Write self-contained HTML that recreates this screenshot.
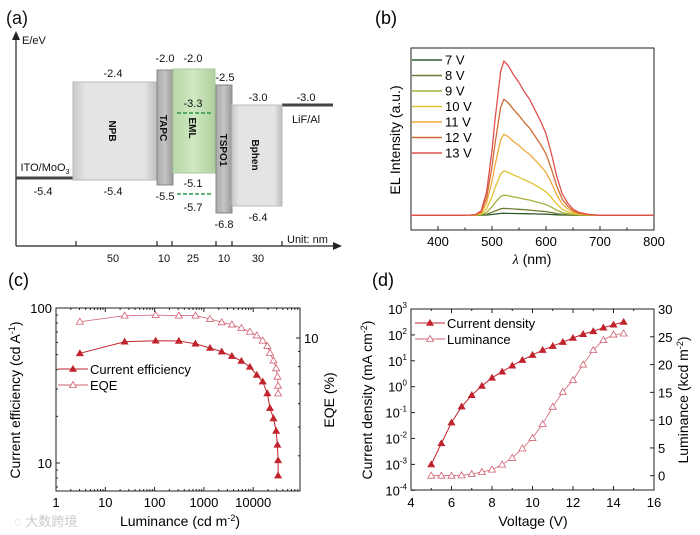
<!DOCTYPE html>
<html><head><meta charset="utf-8"><style>
html,body{margin:0;padding:0;background:#fff}
svg{display:block;font-family:"Liberation Sans","Noto Sans CJK SC",sans-serif}
</style></head><body>
<svg id="fig" width="700" height="535" viewBox="0 0 700 535" xmlns="http://www.w3.org/2000/svg">
<defs>
<linearGradient id="gbox" x1="0" y1="0" x2="1" y2="0"><stop offset="0" stop-color="#c8c8c8"/><stop offset="0.15" stop-color="#e4e4e4"/><stop offset="0.85" stop-color="#e4e4e4"/><stop offset="1" stop-color="#bdbdbd"/></linearGradient>
<linearGradient id="gthin" x1="0" y1="0" x2="1" y2="0"><stop offset="0" stop-color="#aaa"/><stop offset="0.5" stop-color="#c4c4c4"/><stop offset="1" stop-color="#999"/></linearGradient>
<linearGradient id="ggreen" x1="0" y1="0" x2="1" y2="0"><stop offset="0" stop-color="#b8d8a8"/><stop offset="0.5" stop-color="#cfe8c0"/><stop offset="1" stop-color="#b0d0a0"/></linearGradient>
</defs>

<!-- Panel (a) energy diagram -->
<g id="panel-a" font-size="11" fill="#111">
<text x="6" y="24" font-size="18">(a)</text>
<line x1="16" y1="246" x2="16" y2="35" stroke="#222" stroke-width="1.2"/>
<path d="M12,40 L16,31 L20,40 Z" fill="#222"/>
<text x="22" y="44">E/eV</text>
<line x1="16" y1="246" x2="336" y2="246" stroke="#222" stroke-width="1.2"/>
<path d="M333,242 L342,246 L333,250 Z" fill="#222"/>
<text x="287" y="243">Unit: nm</text>
<g stroke="#222" stroke-width="1.2">
<line x1="76" y1="241" x2="76" y2="246"/><line x1="157" y1="241" x2="157" y2="246"/><line x1="172" y1="241" x2="172" y2="246"/><line x1="216" y1="241" x2="216" y2="246"/><line x1="232" y1="241" x2="232" y2="246"/><line x1="282" y1="241" x2="282" y2="246"/>
</g>
<g text-anchor="middle">
<text x="113" y="262">50</text><text x="164" y="262">10</text><text x="193" y="262">25</text><text x="224" y="262">10</text><text x="258" y="262">30</text>
</g>
<line x1="16" y1="178" x2="73" y2="178" stroke="#444" stroke-width="3"/>
<line x1="282" y1="105" x2="333" y2="105" stroke="#444" stroke-width="3"/>
<rect x="73" y="82" width="84" height="98" fill="url(#gbox)" stroke="#bbb"/>
<rect x="157" y="70" width="16" height="115" fill="url(#gthin)" stroke="#888"/>
<rect x="173" y="69" width="42" height="104" fill="url(#ggreen)" stroke="#a8c898"/>
<rect x="216" y="85" width="16" height="128" fill="url(#gthin)" stroke="#888"/>
<rect x="232" y="105" width="50" height="101" fill="url(#gbox)" stroke="#bbb"/>
<line x1="177" y1="113" x2="213" y2="113" stroke="#2a9a4a" stroke-width="1.5" stroke-dasharray="4,2"/>
<line x1="177" y1="194" x2="213" y2="194" stroke="#2a9a4a" stroke-width="1.5" stroke-dasharray="4,2"/>
<g font-weight="bold" font-size="10" text-anchor="middle">
<text transform="translate(113,131) rotate(90)" dy="4">NPB</text>
<text transform="translate(164,128) rotate(90)" dy="4">TAPC</text>
<text transform="translate(193,128) rotate(90)" dy="4">EML</text>
<text transform="translate(224,150) rotate(90)" dy="4">TSPO1</text>
<text transform="translate(256,155) rotate(90)" dy="4">Bphen</text>
</g>
<g text-anchor="middle">
<text x="113" y="77">-2.4</text><text x="165" y="62">-2.0</text><text x="193" y="62">-2.0</text><text x="225" y="81">-2.5</text>
<text x="258" y="101">-3.0</text><text x="306" y="101">-3.0</text><text x="193" y="107">-3.3</text>
<text x="306" y="123">LiF/Al</text>
<text x="43" y="195">-5.4</text><text x="113" y="195">-5.4</text><text x="193" y="187">-5.1</text>
<text x="165" y="200">-5.5</text><text x="193" y="211">-5.7</text><text x="224" y="228">-6.8</text><text x="258" y="221">-6.4</text>
<text x="45" y="171">ITO/MoO<tspan font-size="7" dy="3">3</tspan></text>
</g>
</g>

<!-- Panel (b) -->
<g id="panel-b">
<text x="375" y="24" font-size="18">(b)</text>
<g id="b-plot"></g>
<text transform="translate(400,140) rotate(-90)" text-anchor="middle" font-size="14">EL Intensity (a.u.)</text>
<text x="532" y="264" text-anchor="middle" font-size="14"><tspan font-style="italic" font-family="Liberation Serif">λ</tspan> (nm)</text>
</g>

<!-- Panel (c) -->
<g id="panel-c">
<text x="8" y="286" font-size="18">(c)</text>
<g id="c-plot"></g>
<text transform="translate(20,400) rotate(-90)" text-anchor="middle" font-size="14">Current efficiency (cd A<tspan font-size="9" dy="-5">-1</tspan><tspan dy="5">)</tspan></text>
<text transform="translate(334,400) rotate(-90)" text-anchor="middle" font-size="14">EQE (%)</text>
<text x="180" y="526" text-anchor="middle" font-size="14">Luminance (cd m<tspan font-size="9" dy="-5">-2</tspan><tspan dy="5">)</tspan></text>
<text x="14" y="526" font-size="13" fill="#ccc">◌ 大数跨境</text>
</g>

<!-- Panel (d) -->
<g id="panel-d">
<text x="372" y="286" font-size="18">(d)</text>
<g id="d-plot"></g>
<text transform="translate(372,400) rotate(-90)" text-anchor="middle" font-size="14">Current density (mA cm<tspan font-size="9" dy="-5">-2</tspan><tspan dy="5">)</tspan></text>
<text transform="translate(688,400) rotate(-90)" text-anchor="middle" font-size="14">Luminance (kcd m<tspan font-size="9" dy="-5">-2</tspan><tspan dy="5">)</tspan></text>
<text x="533" y="526" text-anchor="middle" font-size="14">Voltage (V)</text>
</g>
</svg>
<script>
// ---- Panel (b) data ----
const wavelengths = [350,440,460,470,480,490,500,505,510,516,522,530,540,550,560,570,580,590,600,610,620,630,640,650,660,680,700,800];
const spectrumShape = [0,0,0.002,0.006,0.03,0.15,0.42,0.6,0.75,0.93,1.0,0.97,0.91,0.86,0.80,0.75,0.68,0.61,0.53,0.40,0.25,0.14,0.08,0.04,0.02,0.005,0,0];
const voltageLabels = ["7 V","8 V","9 V","10 V","11 V","12 V","13 V"];
const peakIntensities = [0.013,0.045,0.131,0.287,0.525,0.752,1.0];
const spectrumColors = ["#2e5a30","#6d7c30","#a9b03a","#e2c232","#f0aa3a","#cf6c34","#e0504e"];
const bXTicks = [400,500,600,700,800];
// ---- Panel (c) data ----
const luminanceC = [3.05,24.7,105,310,674,1330,2300,3700,5760,8560,11800,15600,19350,21900,25800,29200,31000,32000,32000];
const currentEfficiency = [51,60.6,61.5,61.3,58.8,55.2,52.3,49.0,45.5,41.7,37.0,33.5,28.1,22.6,19.4,16.1,13.1,10.4,8.3];
const eqeValues = [11.35,11.9,11.95,11.9,11.9,11.6,11.3,11.1,10.8,10.5,10.2,9.8,9.4,8.9,8.4,7.9,7.4,6.9,6.5];
const cXTickLabels = ["1","10","100","1000","10000"];
const cYTickLabels = ["10","100"];
// ---- Panel (d) data ----
const voltages = [5,5.5,6,6.5,7,7.5,8,8.5,9,9.5,10,10.5,11,11.5,12,12.5,13,13.5,14,14.5];
const currentDensity = [0.001,0.0065,0.041,0.17,0.47,1.07,2.2,3.8,6.5,10.7,16.7,26,37,53,76,107,138,190,247,316];
const luminanceKcd = [0,0,0,0.06,0.3,0.66,1.1,2.0,3.2,4.9,6.8,9.3,12.4,15.1,17.2,20.0,22.6,24.4,25.4,25.6];
const dXTicks = [4,6,8,10,12,14,16];
const dLeftExps = [-4,-3,-2,-1,0,1,2,3];
const dRightTicks = [0,5,10,15,20,25,30];

const NS = "http://www.w3.org/2000/svg";
function mk(parent, tag, attrs){ const e=document.createElementNS(NS,tag); for(const k in attrs) e.setAttribute(k,attrs[k]); parent.appendChild(e); return e; }
function txt(parent, x, y, s, anchor, size){ const t=mk(parent,"text",{x:x,y:y,"text-anchor":anchor||"middle","font-size":size||13}); t.textContent=s; return t; }
function tri(parent, x, y, filled, color){ return mk(parent,"path",{d:`M${x},${y-3.5} L${x+3.5},${y+2.5} L${x-3.5},${y+2.5} Z`,fill:filled?color:"#fff",stroke:color,"stroke-width":filled?0.6:0.8}); }

// ===== Panel (b) =====
(function(){
  const g=document.getElementById("b-plot");
  const L=411,R=654,T=48,B=230,base=215.3,scale=154.3;
  const xs=w=>L+(w-350)*(R-L)/450;
  const ys=v=>base-v*scale;
  const frame=mk(g,"rect",{x:L,y:T,width:R-L,height:B-T,fill:"none",stroke:"#222","stroke-width":1});
  
  
  for(let w=350; w<=800; w+=50){
    const major = w%100===0;
    mk(g,"line",{x1:xs(w),y1:B,x2:xs(w),y2:B-(major?4:2.5),stroke:"#222"});
  }
  bXTicks.forEach(w=>{ const t=txt(g,xs(w),246,String(w));   });
  for(let i=0;i<peakIntensities.length;i++){
    const pts=wavelengths.map((w,j)=>xs(w).toFixed(1)+","+ys(spectrumShape[j]*peakIntensities[i]).toFixed(1)).join(" ");
    const pl=mk(g,"polyline",{points:pts,fill:"none",stroke:spectrumColors[i],"stroke-width":1.3,"stroke-linejoin":"round"});
    
    
    const ly=60+i*15.5;
    const ll=mk(g,"line",{x1:412,y1:ly,x2:442,y2:ly,stroke:spectrumColors[i],"stroke-width":1.5});
    
    
    const lt=txt(g,445,ly+4.5,voltageLabels[i],"start",13);
    
    
  }
})();

// ===== Panel (c) =====
(function(){
  const g=document.getElementById("c-plot");
  const L=56,R=300,T=308,B=491, col="#c0232c";
  const xs=v=>L+Math.log10(v)*49.3;
  const yl=v=>T+(2-Math.log10(v))*155;
  const yr=v=>338+(1-Math.log10(v))*296;
  const frame=mk(g,"rect",{x:L,y:T,width:R-L,height:B-T,fill:"none",stroke:"#222"});
  
  
  for(let d=0; d<5; d++){
    for(let m=1;m<10;m++){
      const v=Math.pow(10,d)*m, x=xs(v); if(x>R) break;
      const len=m===1?4:2;
      mk(g,"line",{x1:x,y1:B,x2:x,y2:B-len,stroke:"#222"});
      mk(g,"line",{x1:x,y1:T,x2:x,y2:T+len,stroke:"#222"});
    }
  }
  cXTickLabels.forEach(s=>{ const t=txt(g,xs(+s),507,s);   });
  for(let v=7; v<=100; v+= (v<10?1:(v<100?10:100))){
    const y=yl(v); if(y>B) continue;
    const len=(v===10||v===100)?4:2;
    mk(g,"line",{x1:L,y1:y,x2:L+len,y2:y,stroke:"#222"});
  }
  cYTickLabels.forEach(s=>{ const t=txt(g,L-4,yl(+s)+5,s,"end");   });
  [4,5,6,7,8,9,10,20].forEach(v=>{ const y=yr(v); if(y<T||y>B) return; mk(g,"line",{x1:R,y1:y,x2:R-(v===10?4:2),y2:y,stroke:"#222"}); });
  const rt=txt(g,R+4,yr(10)+5,"10","start");  
  const ce=mk(g,"polyline",{points:luminanceC.map((v,i)=>xs(v)+","+yl(currentEfficiency[i])).join(" "),fill:"none",stroke:col,"stroke-width":1});
  
  
  const eq=mk(g,"polyline",{points:luminanceC.map((v,i)=>xs(v)+","+yr(eqeValues[i])).join(" "),fill:"none",stroke:"#d06070","stroke-width":0.8});
  
  
  luminanceC.forEach((v,i)=>{
    const a=tri(g,xs(v),yl(currentEfficiency[i]),true,col);
    
    
    const b=tri(g,xs(v),yr(eqeValues[i]),false,"#d06070");
    
    
  });
  mk(g,"line",{x1:58,y1:369,x2:88,y2:369,stroke:col}); tri(g,73,369,true,col);
  const l1=txt(g,90,374,"Current efficiency","start",13);  
  mk(g,"line",{x1:58,y1:385,x2:88,y2:385,stroke:"#d06070"}); tri(g,73,385,false,"#d06070");
  const l2=txt(g,90,390,"EQE","start",13);  
})();

// ===== Panel (d) =====
(function(){
  const g=document.getElementById("d-plot");
  const L=411,R=654,T=309,B=490, col="#c0232c";
  const xs=v=>L+(v-4)*20.25;
  const yl=v=>T+(3-Math.log10(v))*25.9;
  const yr=v=>475.7-v*5.556;
  const frame=mk(g,"rect",{x:L,y:T,width:R-L,height:B-T,fill:"none",stroke:"#222"});
  
  
  for(let v=4; v<=16; v+=1){ const x=xs(v), len=v%2===0?4:2; mk(g,"line",{x1:x,y1:B,x2:x,y2:B-len,stroke:"#222"}); mk(g,"line",{x1:x,y1:T,x2:x,y2:T+len,stroke:"#222"}); }
  dXTicks.forEach(v=>{ const t=txt(g,xs(v),507,String(v));   });
  dLeftExps.forEach(e=>{
    const y=T+(3-e)*25.9;
    mk(g,"line",{x1:L,y1:y,x2:L+4,y2:y,stroke:"#222"});
    const t=mk(g,"text",{x:L-4,y:y+5,"text-anchor":"end","font-size":13});
    
    
    t.innerHTML='10<tspan font-size="8" dy="-6">'+e+'</tspan>';
  });
  dRightTicks.forEach(v=>{
    const y=yr(v);
    mk(g,"line",{x1:R,y1:y,x2:R-4,y2:y,stroke:"#222"});
    const t=txt(g,R+4,y+5,String(v),"start");
    
    
  });
  const jl=mk(g,"polyline",{points:voltages.map((v,i)=>xs(v)+","+yl(currentDensity[i])).join(" "),fill:"none",stroke:col,"stroke-width":1});
  
  
  const ll=mk(g,"polyline",{points:voltages.map((v,i)=>xs(v)+","+yr(luminanceKcd[i])).join(" "),fill:"none",stroke:"#d06070","stroke-width":0.8});
  
  
  voltages.forEach((v,i)=>{
    const a=tri(g,xs(v),yl(currentDensity[i]),true,col);
    
    
    const b=tri(g,xs(v),yr(luminanceKcd[i]),false,"#d06070");
    
    
  });
  mk(g,"line",{x1:415,y1:323,x2:445,y2:323,stroke:col}); tri(g,430,323,true,col);
  const l1=txt(g,447,328,"Current density","start",13);  
  mk(g,"line",{x1:415,y1:339,x2:445,y2:339,stroke:"#d06070"}); tri(g,430,339,false,"#d06070");
  const l2=txt(g,447,344,"Luminance","start",13);  
})();
</script>
</body></html>
